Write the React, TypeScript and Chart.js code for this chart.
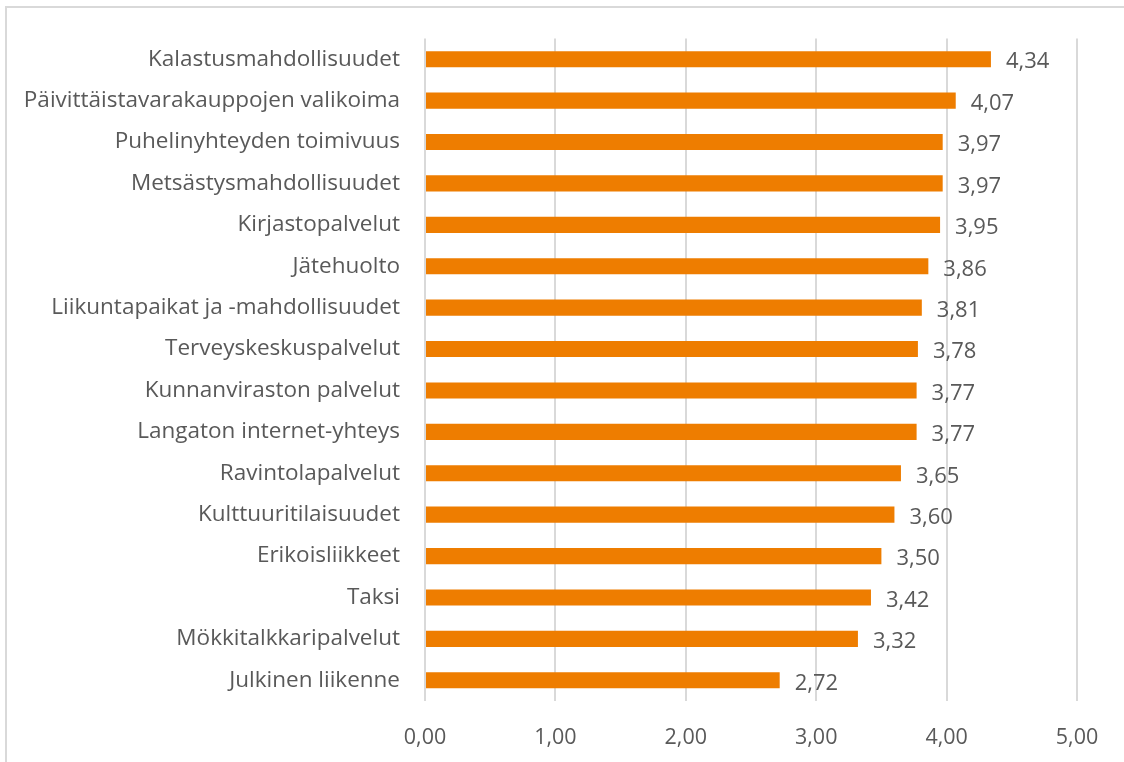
import React, { useEffect, useRef } from "react";
import { Chart, registerables } from "chart.js";

Chart.register(...registerables);

const categories: string[] = [
  "Kalastusmahdollisuudet",
  "Päivittäistavarakauppojen valikoima",
  "Puhelinyhteyden toimivuus",
  "Metsästysmahdollisuudet",
  "Kirjastopalvelut",
  "Jätehuolto",
  "Liikuntapaikat ja -mahdollisuudet",
  "Terveyskeskuspalvelut",
  "Kunnanviraston palvelut",
  "Langaton internet-yhteys",
  "Ravintolapalvelut",
  "Kulttuuritilaisuudet",
  "Erikoisliikkeet",
  "Taksi",
  "Mökkitalkkaripalvelut",
  "Julkinen liikenne",
];

const values: number[] = [
  4.34, 4.07, 3.97, 3.97, 3.95, 3.86, 3.81, 3.78, 3.77, 3.77, 3.65, 3.6, 3.5, 3.42, 3.32, 2.72,
];

const xMin = 0;
const xMax = 5;
const xStep = 1;

const TEXT = "#595959";
const BAR = "#EE7D00";
const GRID = "#D9D9D9";
const FONT = "'Open Sans', sans-serif";

const fmt = (v: number) => v.toFixed(2).replace(".", ",");

const framePlugin = {
  id: "frame",
  beforeDraw(chart: any) {
    const ctx = chart.ctx;
    ctx.save();
    ctx.strokeStyle = GRID;
    ctx.lineWidth = 2;
    ctx.beginPath();
    ctx.moveTo(6, chart.height + 5);
    ctx.lineTo(6, 7);
    ctx.lineTo(chart.width + 5, 7);
    ctx.stroke();
    ctx.restore();
  },
};

const labelPlugin = {
  id: "valueLabels",
  afterDatasetsDraw(chart: any) {
    const ctx = chart.ctx;
    const meta = chart.getDatasetMeta(0);
    ctx.save();
    ctx.fillStyle = TEXT;
    ctx.font = `22px ${FONT}`;
    ctx.textAlign = "left";
    ctx.textBaseline = "middle";
    meta.data.forEach((bar: any, i: number) => {
      ctx.fillText(fmt(values[i]), bar.x + 15, bar.y + 3);
    });
    ctx.restore();
  },
};

export default function App() {
  const ref = useRef<HTMLCanvasElement | null>(null);

  useEffect(() => {
    if (!ref.current) return;
    const chart = new Chart(ref.current, {
      type: "bar",
      data: {
        labels: categories,
        datasets: [
          {
            data: values,
            backgroundColor: BAR,
            borderWidth: 0,
            barPercentage: 0.39,
            categoryPercentage: 1,
          },
        ],
      },
      options: {
        indexAxis: "y",
        animation: false,
        responsive: false,
        maintainAspectRatio: false,
        layout: { padding: { top: 34, right: 47, bottom: 0, left: 0 } },
        plugins: {
          legend: { display: false },
          tooltip: { enabled: false },
        },
        scales: {
          x: {
            min: xMin,
            max: xMax,
            ticks: {
              stepSize: xStep,
              color: TEXT,
              font: { family: FONT, size: 21.5 },
              padding: 24,
              callback: (v: any) => fmt(Number(v)),
            },
            grid: { color: GRID, lineWidth: 2, drawTicks: false },
            border: { display: false },
            afterFit: (s: any) => {
              s.height = 61;
            },
          },
          y: {
            ticks: {
              color: TEXT,
              font: { family: FONT, size: 22.5 },
              padding: 25,
              autoSkip: false,
            },
            grid: { display: false, drawTicks: false },
            border: { display: false },
            afterFit: (s: any) => {
              s.width = 425;
            },
          },
        },
      },
      plugins: [framePlugin, labelPlugin],
    });
    return () => chart.destroy();
  }, []);

  return (
    <div style={{ position: "absolute", left: 0, top: 0, width: 1124, height: 762, background: "#fff" }}>
      <canvas ref={ref} width={1124} height={762} style={{ display: "block" }} />
    </div>
  );
}
